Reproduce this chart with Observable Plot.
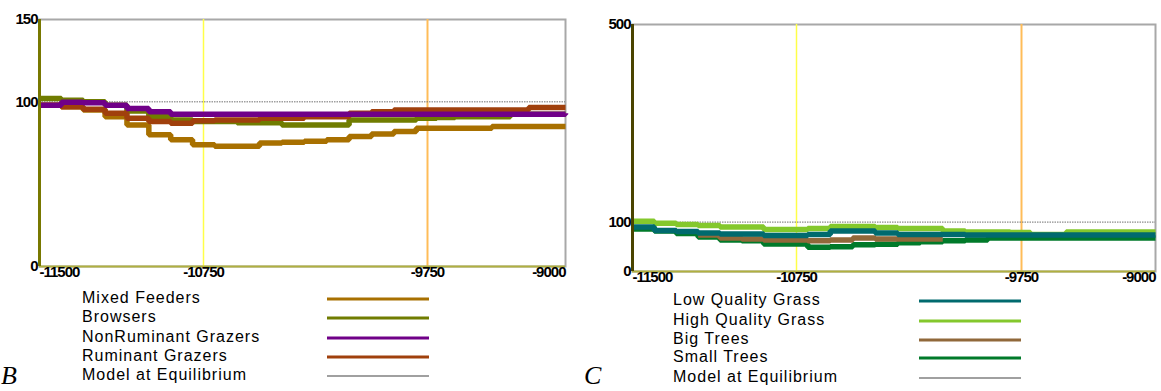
<!DOCTYPE html>
<html><head><meta charset="utf-8">
<script src="https://cdn.jsdelivr.net/npm/d3@7"></script>
<script src="https://cdn.jsdelivr.net/npm/@observablehq/plot@0.6"></script>
<style>
body{margin:0;background:#fff;width:1161px;height:391px;overflow:hidden;position:relative;font-family:"Liberation Sans",Arial,sans-serif;}
.panel{position:absolute;top:0;}
.panel svg text{font-size:15px !important;letter-spacing:-1px;font-weight:bold;fill:#000;}
.leg{position:absolute;font-size:16px;letter-spacing:1px;color:#000;white-space:nowrap;line-height:18px;transform:translateY(-50%);}
.sw{position:absolute;height:3px;transform:translateY(-50%);}
.tag{position:absolute;font-family:"Liberation Serif","DejaVu Serif",serif;font-style:italic;font-size:26px;line-height:26px;}
</style></head><body>
<div id="left" class="panel" style="left:0"></div>
<div id="right" class="panel" style="left:580px"></div>
<div id="legL"></div>
<div id="legR"></div>
<div class="tag" style="left:1px;top:363px">B</div>
<div class="tag" style="left:584px;top:363px">C</div>
<script>
// ---- data ----
const years = d3.range(-11500, -8999, 100);
const xTicks = [-11500, -10750, -9750, -9000];
const markerYears = [-10750, -9750];
const equilibrium = [100];
const yTicksB = [0, 100, 150];
const yTicksC = [0, 100, 500];

const namesB = ["Mixed Feeders", "Browsers", "NonRuminant Grazers", "Ruminant Grazers"];
const mixedFeeders = [98,97,95,91,86,80,77,74,73,73,75,75.5,76,77,79,80.5,82,84,84,84,84,85,85,85,85,85];
const browsers = [102,101,100,98,94.5,91,89,88,88,87.3,87.3,86,86,86,89,89,89,90,90.5,91,91,91,92.5,92.5,92.5,92.5];
const nonRuminantGrazers = [98,99.7,99.5,98,96,94,92.5,92.5,92.5,92.5,92.5,92.5,92.5,92.5,92.5,92.5,92.5,92.5,92.5,92.5,92.5,92.5,92.5,92.5,92.5,93];
const ruminantGrazers = [98,97,95.5,93,90,88,87,88.5,89,89,90,90,91,91,93,94,95,95,95,95,95,95,95,96.5,96.5,96.5];

const namesC = ["Low Quality Grass", "High Quality Grass", "Big Trees", "Small Trees"];
const lowQualityGrass = [90,83,81,78,76,76,73,73,75,82,82,78,75,75,75,74,74,74,74,74,74,74,74,74,74,74];
const highQualityGrass = [101.5,97.6,95,93,90,90,85,85,87,91,91,89,87,87,82,80,80,79,75,75,80,80,80,80,80,80];
const bigTrees = [null,null,null,74,68,66,64,64,62.5,64,68,66,66,66,66,null,null,null,null,null,null,null,null,null,null,null];
const smallTrees = [86,82,77,70,64,62,55.5,55.5,49,50,54,55,58,60,62,64,68,68,68,68,68,68,68,68,68,68];

const colorsB = ["#a87000", "#707c00", "#700088", "#a0400c"];
const colorsC = ["#006a6e", "#84c82c", "#90683a", "#007a2a"];

function rowsFor(names, arrays, order) {
  const rows = [];
  order.forEach(i => arrays[i].forEach((v, j) => rows.push({name: names[i], year: years[j], value: v})));
  return rows;
}

function chart(opts) {
  const {rows, names, colors, yMax, yTicks, xRange, width, height, mL, mR, mT, mB, edge} = opts;
  return Plot.plot({
    width, height, marginLeft: mL, marginRight: mR, marginTop: mT, marginBottom: mB,
    style: {fontFamily: "'Liberation Sans', Arial, sans-serif", fontSize: "15px", color: "#000", background: "#fff"},
    x: {type: "linear", domain: xTicks, range: xRange, axis: null},
    y: {domain: [0, yMax], ticks: yTicks, tickSize: 0, tickPadding: 2, label: null, tickFormat: d => String(d)},
    color: {domain: names, range: colors},
    marks: [
      Plot.frame({stroke: "#a8a8a8", strokeWidth: 2}),
      Plot.ruleX([markerYears[0]], {stroke: "#ffff48", strokeWidth: 1.5}),
      Plot.ruleX([markerYears[1]], {stroke: "#ffbc58", strokeWidth: 2}),
      Plot.ruleY(equilibrium, {stroke: "#707070", strokeWidth: 1, strokeDasharray: "1.5,1"}),
      Plot.line(rows, {x: "year", y: "value", z: "name", stroke: "name", curve: "step-after",
        strokeWidth: 5.5, strokeLinecap: "butt", strokeLinejoin: "miter"}),
      Plot.ruleY([0], {stroke: "#b0b040", strokeWidth: 2}),
      Plot.ruleX([xTicks[0]], {stroke: edge, strokeWidth: 3}),
      Plot.text([xTicks[0]], {x: d => d, frameAnchor: "bottom", dy: 10, textAnchor: "start", text: d => String(d)}),
      Plot.text(xTicks.slice(1, 3), {x: d => d, frameAnchor: "bottom", dy: 10, textAnchor: "middle", text: d => String(d)}),
      Plot.text([xTicks[3]], {x: d => d, frameAnchor: "bottom", dy: 10, textAnchor: "end", text: d => String(d)})
    ]
  });
}

document.getElementById("left").appendChild(chart({
  rows: rowsFor(namesB, [mixedFeeders, browsers, nonRuminantGrazers, ruminantGrazers], [0, 1, 3, 2]),
  names: namesB, colors: colorsB, yMax: 150, yTicks: yTicksB,
  xRange: [39, 203, 427, 565], width: 580, height: 290, mL: 39, mR: 15, mT: 19, mB: 24, edge: "#787800"
}));
document.getElementById("right").appendChild(chart({
  rows: rowsFor(namesC, [lowQualityGrass, highQualityGrass, bigTrees, smallTrees], [1, 3, 2, 0]),
  names: namesC, colors: colorsC, yMax: 500, yTicks: yTicksC,
  xRange: [52, 216, 441, 575], width: 581, height: 290, mL: 52, mR: 6, mT: 24, mB: 19, edge: "#4a4400"
}));

function legend(el, names, colors, textX, swX, swW, rowsY) {
  const all = names.concat(["Model at Equilibrium"]);
  const cols = colors.concat(["#a0a0a0"]);
  all.forEach((n, i) => {
    const t = document.createElement("div");
    t.className = "leg"; t.textContent = n;
    t.style.left = textX + "px"; t.style.top = rowsY[i] + "px";
    el.appendChild(t);
    const s = document.createElement("div");
    s.className = "sw"; s.style.left = swX + "px"; s.style.width = swW + "px";
    s.style.top = (rowsY[i] + 1) + "px"; s.style.background = cols[i];
    if (i === all.length - 1) s.style.height = "2px";
    el.appendChild(s);
  });
}
legend(document.getElementById("legL"), namesB, colorsB, 82, 327, 102, [298, 317, 337, 356, 375]);
legend(document.getElementById("legR"), namesC, colorsC, 673, 919, 102, [300, 320, 339, 357, 377]);
</script>
</body></html>
